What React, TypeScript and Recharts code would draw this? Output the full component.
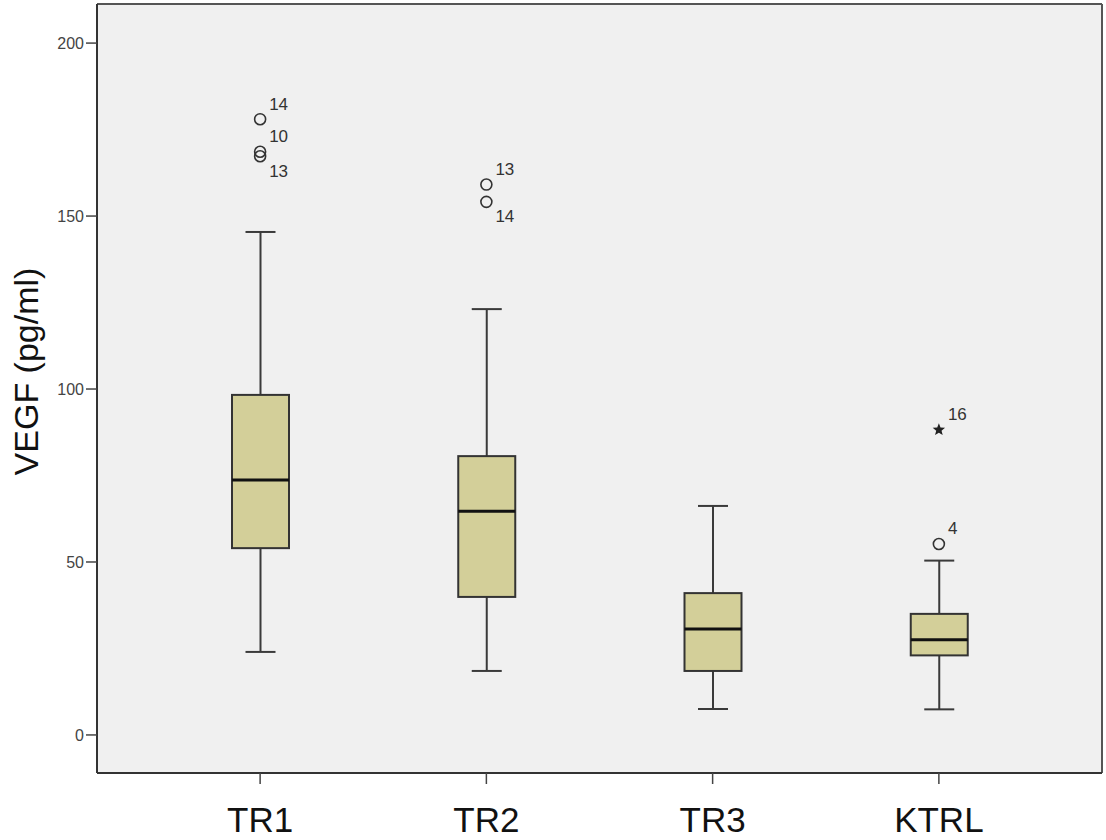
import {
	Bar,
	CartesianGrid,
	ComposedChart,
	Scatter,
	XAxis,
	YAxis,
} from "recharts";

// Box-plot summary per group.
const groups = ["TR1", "TR2", "TR3", "KTRL"];
const whiskerLow = [24, 18.5, 7.5, 7.4];
const q1 = [54, 39.9, 18.5, 23];
const median = [73.7, 64.7, 30.6, 27.5];
const q3 = [98.3, 80.6, 41, 35];
const whiskerHigh = [145.4, 123.1, 66.2, 50.4];

// Outliers: "o" = outlier, "*" = extreme value; case numbers as labels.
const outlierGroup = ["TR1", "TR1", "TR1", "TR2", "TR2", "KTRL", "KTRL"];
const outlierValue = [178, 168.6, 167.3, 159.1, 154.1, 55.2, 88.2];
const outlierCase = ["14", "10", "13", "13", "14", "4", "16"];
const outlierKind = ["o", "o", "o", "o", "o", "o", "*"];

const yTicks = [0, 50, 100, 150, 200];
const Y_MIN = -11;
const Y_MAX = 211.3;

// Case labels that SPSS pushed below their marker to avoid overlap.
const LABEL_BELOW = new Set(["TR1-13", "TR2-14"]);

const FONT = "'Liberation Sans', Arial, sans-serif";
const INK = "#3a3a3a";

const boxData = groups.map((name, i) => ({
	name,
	box: [q1[i], q3[i]],
	lo: whiskerLow[i],
	q1: q1[i],
	med: median[i],
	q3: q3[i],
	hi: whiskerHigh[i],
}));

const outlierData = outlierValue.map((value, i) => ({
	name: outlierGroup[i],
	value,
	caseNo: outlierCase[i],
	kind: outlierKind[i],
}));

function BoxShape(props: any) {
	const { x, y, width, height, payload } = props;
	if (height == null || !payload) return null;
	// pixels per data unit, taken from the bar the scale already placed
	const ppu = height / (payload.q3 - payload.q1);
	const yOf = (v: number) => y + (payload.q3 - v) * ppu;
	const cx = x + width / 2;
	const cap = 15;
	return (
		<g>
			<line x1={cx} x2={cx} y1={yOf(payload.hi)} y2={y} stroke={INK} strokeWidth={2} />
			<line x1={cx} x2={cx} y1={y + height} y2={yOf(payload.lo)} stroke={INK} strokeWidth={2} />
			<line x1={cx - cap} x2={cx + cap} y1={yOf(payload.hi)} y2={yOf(payload.hi)} stroke={INK} strokeWidth={2} />
			<line x1={cx - cap} x2={cx + cap} y1={yOf(payload.lo)} y2={yOf(payload.lo)} stroke={INK} strokeWidth={2} />
			<rect x={x} y={y} width={width} height={height} fill="#d3cf99" stroke="#333" strokeWidth={2} />
			<line x1={x} x2={x + width} y1={yOf(payload.med)} y2={yOf(payload.med)} stroke="#111" strokeWidth={3} />
		</g>
	);
}

function OutlierShape(props: any) {
	const { cx, cy, payload } = props;
	if (cx == null || cy == null) return null;
	const below = LABEL_BELOW.has(`${payload.name}-${payload.caseNo}`);
	let marker;
	if (payload.kind === "*") {
		const pts: string[] = [];
		for (let k = 0; k < 10; k++) {
			const r = k % 2 === 0 ? 6.5 : 2.8;
			const a = -Math.PI / 2 + (k * Math.PI) / 5;
			pts.push(`${cx + r * Math.cos(a)},${cy + r * Math.sin(a)}`);
		}
		marker = <polygon points={pts.join(" ")} fill="#222" />;
	} else {
		marker = <circle cx={cx} cy={cy} r={5.5} fill="none" stroke="#333" strokeWidth={1.6} />;
	}
	return (
		<g>
			{marker}
			<text
				x={cx + 9}
				y={cy + (below ? 15 : -15)}
				dominantBaseline="central"
				fontSize={17}
				fontFamily={FONT}
				fill="#333"
			>
				{payload.caseNo}
			</text>
		</g>
	);
}

export default function App() {
	return (
		<div style={{ position: "absolute", left: 0, top: 0, background: "#fff" }}>
			<ComposedChart
				width={1106}
				height={840}
				data={boxData}
				margin={{ top: 4, right: 4, left: 0, bottom: 0 }}
			>
				{/* grey plot panel; the one horizontal / vertical grid line closes the frame top and right */}
				<CartesianGrid
					fill="#f0f0f0"
					fillOpacity={1}
					stroke="#555"
					strokeWidth={2}
					horizontalCoordinatesGenerator={({ offset }: any) => [offset.top]}
					verticalCoordinatesGenerator={({ offset }: any) => [offset.left + offset.width]}
				/>
				<XAxis
					dataKey="name"
					type="category"
					allowDuplicatedCategory={false}
					padding={{ left: 50, right: 50 }}
					height={67}
					axisLine={{ stroke: "#333", strokeWidth: 2 }}
					tickLine={{ stroke: "#444", strokeWidth: 1.5 }}
					tickSize={11}
					tickMargin={23}
					tick={{ fontSize: 35, fill: "#111", fontFamily: FONT }}
				/>
				<YAxis
					type="number"
					domain={[Y_MIN, Y_MAX]}
					ticks={yTicks}
					width={97}
					axisLine={{ stroke: "#333", strokeWidth: 2 }}
					tickLine={{ stroke: "#444", strokeWidth: 1.5 }}
					tickSize={11}
					tickMargin={2}
					tick={{ fontSize: 16, fill: "#444", fontFamily: FONT }}
					label={{
						content: (p: any) => {
							const vb = p.viewBox;
							if (!vb) return null;
							const lx = 26;
							const ly = vb.y + vb.height / 2 - 17;
							return (
								<text
									x={lx}
									y={ly}
									transform={`rotate(-90 ${lx} ${ly})`}
									textAnchor="middle"
									dominantBaseline="central"
									fontSize={34}
									fontFamily={FONT}
									fill="#111"
								>
									VEGF (pg/ml)
								</text>
							);
						},
					}}
				/>
				<Bar dataKey="box" barSize={57} shape={BoxShape} isAnimationActive={false} />
				<Scatter data={outlierData} dataKey="value" shape={OutlierShape} isAnimationActive={false} />
			</ComposedChart>
		</div>
	);
}
